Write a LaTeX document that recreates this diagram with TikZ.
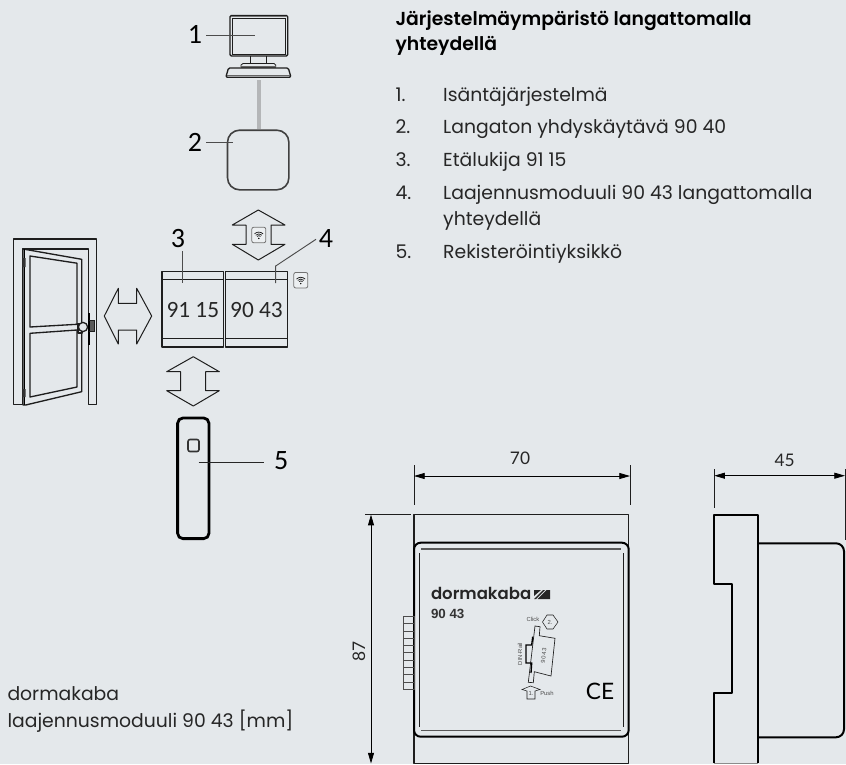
\documentclass[tikz,border=0pt]{standalone}
\usepackage{fontspec}
\setmainfont{Poppins}[BoldFont={Poppins SemiBold}]
\newfontfamily\numfont{Carlito}
\newfontfamily\dimfont{Lato}
\newfontfamily\plainfont{Liberation Sans}
\definecolor{pagebg}{HTML}{E4E8EB}
\definecolor{inkline}{HTML}{1E1E1E}
\definecolor{linkgrey}{HTML}{B4B6B8}
\usetikzlibrary{arrows.meta,calc}
% wifi sign: rounded box with arcs, #1 = centre
\newcommand\wifisign[1]{%
    \draw[fill=pagebg!70!white, draw=black!55, rounded corners=1.5, line width=0.6] ($#1+(-7,-7.8)$) rectangle ($#1+(7,7.8)$);
    \foreach \r in {2.5,4.3,6.1} {
        \draw[line width=0.55] ($#1+(0,3.2)+(-45:\r)$) arc (-45:-135:\r);
    }
    \fill ($#1+(0,3.4)$) circle (0.8);
}
\begin{document}
\begin{tikzpicture}[x=0.75pt,y=-0.75pt,
        >={Stealth[inset=0pt,length=8pt,width=4.5pt]},
        line width=0.75pt,
        draw=inkline,
        outline/.style={draw=inkline, line width=1pt, line join=round},
        heavy/.style={draw=black, line width=1.5pt, line join=round},
        thinline/.style={draw=inkline, line width=0.6pt},
        leader/.style={draw=black!70, line width=0.7pt},
        dimline/.style={draw=black, line width=0.6pt, <->},
        dimtext/.style={font=\dimfont\fontsize{13}{15}\selectfont, inner sep=0pt, text=black!85},
        callout/.style={font=\numfont\fontsize{21}{23}\selectfont, inner sep=0pt},
        modtext/.style={font=\numfont\fontsize{17.5}{19}\selectfont, inner sep=0pt, text=black!85},
        listtext/.style={font=\fontsize{14.1}{16}\selectfont, anchor=west, inner sep=0pt, text=black!85, text height=10pt, text depth=3pt},
        headtext/.style={font=\bfseries\fontsize{14.1}{16}\selectfont, anchor=west, inner sep=0pt, text=black, text height=10pt, text depth=3pt},
        tinytext/.style={font=\plainfont\fontsize{4.4}{5}\selectfont, inner sep=0pt, text=black!70},
    ]
    \fill[pagebg] (0,0) rectangle (846,764);
    \useasboundingbox (0,0) rectangle (846,764);

    %% computer
    \draw[outline, rounded corners=1] (230,15.5) rectangle (287.7,56);
    \draw[thinline] (232.3,18.3) rectangle (285.5,54);
    \draw[draw=black!55, line width=1.2pt] (231,16.5) -- (287,16.5);
    \draw[thinline] (250.3,56) -- (250.3,63.5) (266.7,56) -- (266.7,63.5);
    \draw[thinline] (241,67) -- (241,65) -- (243,63.5) -- (274,63.5) -- (275.7,65) -- (275.7,67);
    \draw[draw=black!60, line width=1.8pt] (241,67) -- (275.7,67);
    \draw[outline, rounded corners=1] (225.8,77.3) -- (228.5,68) -- (288.3,68) -- (291,77.3) -- cycle;
    \draw[draw=black!60, line width=1pt] (227,75.3) -- (290,75.3);
    \coordinate (pc) at (255,35.7);
    \node[callout] (n1) at (195,34) {1};
    \draw[leader] (206,35.7) -- (pc);

    %% gateway
    \node[draw=black!75, line width=1.2pt, rounded corners=9pt, minimum width=46pt, minimum height=44.7pt, inner sep=0pt] (gate) at (258.2,160) {};
    \draw[draw=linkgrey, line width=2.5pt] (259,80) -- (259,128.5);
    \coordinate (gw) at (233,142.7);
    \node[callout] (n2) at (195,142) {2};
    \draw[leader] (206,142.7) -- (gw);

    %% radio arrow
    \draw[outline, line width=0.75pt] (246,244.3) -- (232.3,244.3) -- (258.3,260) -- (285,244.3) -- (271,244.3) -- (271,225) -- (285,225) -- (258.3,210) -- (232.3,225) -- (246,225) -- cycle;
    \wifisign{(258.8,235)}

    %% door
    \draw[outline] (13.7,404.7) -- (13.7,239) -- (96.7,239) -- (96.7,404.7) -- (88.5,404.7) -- (88.5,249) -- (22.5,249) -- (22.5,404.7) -- cycle;
    \draw[outline, fill=pagebg] (23,249) -- (81.7,259.3) -- (81.7,391.7) -- (25.7,405) -- (23,405) -- cycle;
    \draw[draw=black, line width=1.4pt] (24.5,249) -- (24.5,405);
    \fill[black!80] (22.3,258) rectangle (25.5,267) (22.3,389) rectangle (25.5,397);
    \draw[outline] (30,256) -- (77,263.2) -- (77,324.3) -- (30,327) -- cycle;
    \draw[outline] (30,333.3) -- (77,330) -- (77,387) -- (30,397) -- cycle;
    \draw[outline, fill=pagebg] (78,323.5) rectangle (82,333);
    \draw[outline, fill=pagebg] (83,327) circle (4.6);
    \fill[black!65] (89.5,320) rectangle (94.7,331.5);
    \draw[draw=black, line width=1.4pt] (89,313) -- (89,345);
    \draw[thinline] (89,320) -- (94.7,320) -- (94.7,331.5) -- (89,331.5);

    %% door arrow
    \draw[outline, line width=0.75pt] (118.3,288.3) -- (118.3,303.3) -- (136.7,303.3) -- (136.7,288.3) -- (151.7,316) -- (136.7,344) -- (136.7,330) -- (118.3,330) -- (118.3,344) -- (104.3,316) -- cycle;

    %% modules
    \foreach \xa/\xb/\name/\txt in {162/223.7/m3/91 15, 225.7/287.3/m4/90 43} {
        \draw[outline] (\xa,271.3) rectangle (\xb,347);
        \draw[outline] (\xa,279.7) -- (\xb,279.7) (\xa,338.3) -- (\xb,338.3);
        \node[modtext] (\name) at ({(\xa+\xb)/2},310) {\txt};
    }
    \coordinate (m3top) at (182,283);
    \coordinate (m4top) at (275.7,283);
    \node[callout] (n3) at (178,238.5) {3};
    \node[callout] (n4) at (326,238.5) {4};
    \draw[leader] (182,251) -- (m3top);
    \draw[leader] (316,239.3) -- (275.7,266) -- (m4top);
    \wifisign{(300.8,280.2)}

    %% lower arrow
    \draw[outline, line width=0.75pt] (180.7,371.7) -- (166.7,371.7) -- (193.3,356.7) -- (219.3,371.7) -- (205.7,371.7) -- (205.7,390.7) -- (219.3,390.7) -- (193.3,406) -- (166.7,390.7) -- (180.7,390.7) -- cycle;

    %% reader
    \node[draw=black, line width=2.1pt, rounded corners=4pt, minimum width=23.5pt, minimum height=90.5pt, inner sep=0pt] (reader) at (193.3,478.3) {};
    \draw[heavy, draw=black!80, rounded corners=1.5, line width=1.2pt] (188,439.5) rectangle (199,451.5);
    \coordinate (rd) at (198.7,462);
    \node[callout] (n5) at (281.3,460.5) {5};
    \draw[leader, draw=black!85] (rd) -- (264.3,462);

    %% list
    \node[headtext] (head1) at (395,21) {Järjestelmäympäristö langattomalla};
    \node[headtext] (head2) at (395,46) {yhteydellä};
    \foreach \y/\num/\txt in {97/1./Isäntäjärjestelmä,
                              129.3/2./Langaton yhdyskäytävä 90 40,
                              162/3./Etälukija 91 15,
                              195.3/4./Laajennusmoduuli 90 43 langattomalla,
                              221.3/{}/yhteydellä,
                              254/5./Rekisteröintiyksikkö} {
        \node[listtext] at (395,\y) {\num};
        \node[listtext] at (442.7,\y) {\txt};
    }
    \node[listtext] (cap1) at (7,696) {dormakaba};
    \node[listtext] (cap2) at (7,722.5) {laajennusmoduuli 90 43 [mm]};

    %% front view
    \draw[outline, line width=1.1pt] (414,763.5) -- (414,514.7) -- (628.7,514.7) -- (628.7,763.5) -- cycle;
    \draw[heavy, fill=pagebg, rounded corners=5pt] (414,542.7) rectangle (628.7,736.7);
    \draw[draw=black!65, line width=1pt] (421.3,549) -- (621,549) (421.3,730.7) -- (621,730.7);
    \draw[thinline] (419.3,553) -- (419.3,726.7) (623.3,553) -- (623.3,726.7);
    \foreach \i in {0,...,9} {
        \draw[thinline, draw=black!70] (414,{616.3+\i*7.3}) rectangle (403.3,{616.3+\i*7.3+7.3});
    }
    \node[font=\fontsize{12.4}{15}\selectfont\bfseries, inner sep=0pt, anchor=west, text=black!85] (logo) at (430.5,593) {dormakaba};
    \fill[black!85] (534,599) -- (543,590) -- (545,590) -- (536,599) -- cycle;
    \fill[black!85] (537.5,599) -- (546.5,590) -- (550,590) -- (550,599) -- cycle;
    \fill[black!85] (534,590) -- (541,590) -- (534,596) -- cycle;
    \node[font=\plainfont\bfseries\fontsize{10}{12}\selectfont, inner sep=0pt, anchor=west, text=black!80] (type) at (430.5,614) {90 43};
    \node[font=\dimfont\fontsize{17}{19}\selectfont, inner sep=0pt] (ce) at (600,691) {CE};

    %% din rail sketch
    \draw[thinline, line width=0.5pt] (535,626) -- (540,626.7) -- (539.3,635.7) -- (555,638.3) -- (551,676) -- (534.3,671.7) -- (533.3,682.7) -- (528.3,682.3) -- cycle;
    \draw[draw=black, line width=1pt] (532.7,636.7) -- (531.7,645) -- (526,645) -- (526,663) -- (531.7,663) -- (531,673);
    \node[tinytext, rotate=84] (din) at (543.7,655.7) {90 43};
    \node[tinytext, rotate=90] (rail) at (520,654) {DIN-Rail};
    \node[tinytext] (click) at (533,619.5) {Click};
    \node[tinytext] (push) at (547,693.7) {Push};
    \draw[thinline, line width=0.4pt] (547,615) -- (553,615) -- (558,622) -- (553,629) -- (547,629) -- (542.5,622) -- cycle;
    \node[tinytext] (two) at (550,622) {2.};
    \draw[thinline, line width=0.4pt] (527,699) -- (527,691) -- (522,689.5) -- (530.5,686) -- (540,689.5) -- (535,691) -- (535,699) -- cycle;
    \node[tinytext] (one) at (531,693.5) {1.};

    %% side view
    \draw[heavy] (714.3,763) -- (714.3,693.3) -- (732,693.3) -- (732,584.3) -- (714.3,584.3) -- (714.3,514.7) -- (757.7,514.7) -- (757.7,763);
    \draw[draw=black!45, line width=0.8pt] (714.3,763.4) -- (757.7,763.4);
    \draw[heavy] (757.7,543.3) -- (836,543.3) arc (-90:0:8) -- (844,729.3) arc (0:90:8) -- (757.7,737.3);

    %% dimensions
    \coordinate (d70a) at (414,476);
    \coordinate (d70b) at (630,476);
    \coordinate (d45a) at (714.3,475.7);
    \coordinate (d45b) at (845,475.7);
    \coordinate (d87a) at (371,514.7);
    \coordinate (d87b) at (371,763.5);
    \draw[thinline] (414,465) -- (414,505) (630,465) -- (630,505);
    \draw[thinline] (714.3,469) -- (714.3,508) (845,469) -- (845,540);
    \draw[thinline] (365,514.7) -- (411,514.7);
    \draw[dimline] (d70a) -- (d70b);
    \draw[dimline] (d45a) -- (d45b);
    \draw[dimline] (d87a) -- (d87b);
    \node[dimtext] (l70) at (520,458) {70};
    \node[dimtext] (l45) at (784.7,460) {45};
    \node[dimtext, rotate=90] (l87) at (359,651) {87};
\end{tikzpicture}
\end{document}
